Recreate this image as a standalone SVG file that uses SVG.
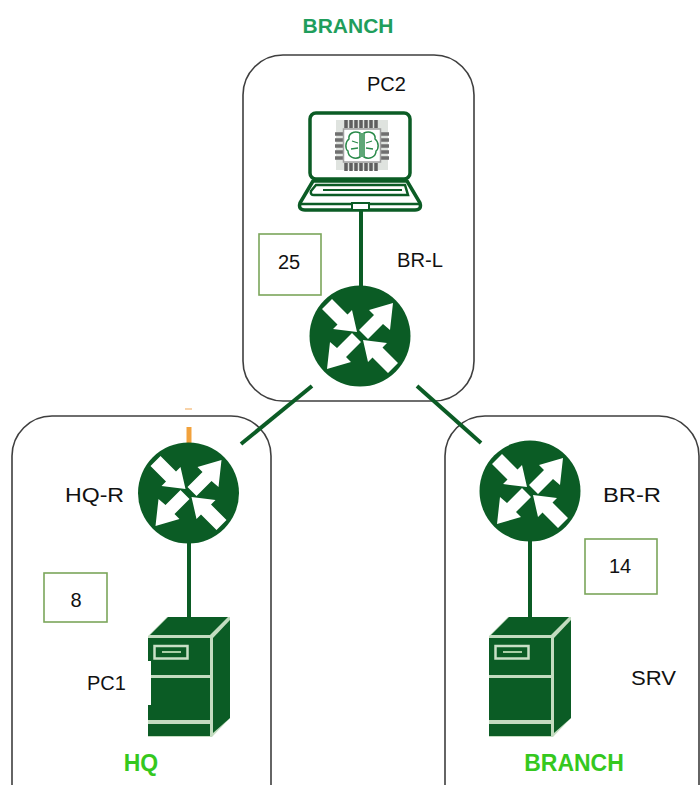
<svg xmlns="http://www.w3.org/2000/svg" width="700" height="785" viewBox="0 0 700 785">
<style>
.zone{fill:#fff;stroke:#3f3f3f;stroke-width:1.6}
.link{stroke:#0b5c25;stroke-width:4;fill:none}
.lbl{font-family:"Liberation Sans",Arial,sans-serif;font-size:20px;fill:#111}
.zn{font-family:"Liberation Sans",Arial,sans-serif;font-size:21px;font-weight:bold;text-anchor:middle}
.znb{font-size:23px}
.num{fill:#fff;stroke:#7ba65a;stroke-width:1.6}
.numt{font-family:"Liberation Sans",Arial,sans-serif;font-size:20px;fill:#111;text-anchor:middle}
.lap{fill:none;stroke:#0b5c25;stroke-width:3.5;stroke-linejoin:round}
</style>
<defs>
<g id="router">
<circle r="50.5" fill="#0b5c25"/>
<g fill="#fff">
<path d="M-1-6 14-21 9-26 33-33 30-6 23-12 8 3Z"/>
<path d="M1 6-14 21-9 26-33 33-30 6-23 12-8-3Z"/>
<path d="M-38-27-28-37-12.500-21.500-8-26-3-4-27-7-22.500-11.500Z"/>
<path d="M38 27 28 37 12.500 21.500 8 26 3 4 27 7 22.500 11.500Z"/>
</g>
</g>
<g id="server">
<path d="M0 36 19 17H82V118L64 137H0Z" fill="#c3dcc0"/>
<path d="M2 35 20 17H80L62 35Z" fill="#0b5c25"/>
<path d="M65 38 82 20V118L65 133Z" fill="#0b5c25"/>
<path d="M0 38H62V75H0Z" fill="#0b5c25"/>
<path d="M0 78H62V120H0Z" fill="#0b5c25"/>
<path d="M0 124H62V136H0Z" fill="#0b5c25"/>
<rect x="6.500" y="46" width="33" height="12.500" fill="none" stroke="#c9e0c6" stroke-width="2.500"/>
<path d="M14 52H33" stroke="#a9cfa5" stroke-width="2"/>
</g>
</defs>

<g id="zone-branch-top"><rect class="zone" x="243" y="55" width="231" height="346" rx="40"/></g>
<g id="zone-hq"><rect class="zone" x="12" y="416" width="259" height="410" rx="40"/></g>
<g id="zone-branch"><rect class="zone" x="445" y="416" width="254" height="410" rx="40"/></g>

<g id="connectors">
<path class="link" d="M361 211V288"/>
<path class="link" d="M312 386 241 444"/>
<path class="link" d="M417 386 481 443"/>
<path class="link" d="M189 543V618"/>
<path class="link" d="M530 541V618"/>
<path d="M189 427V444" stroke="#f2a23c" stroke-width="5" fill="none"/>
<path d="M185 409H192" stroke="#f6c48d" stroke-width="1.500" fill="none"/>
</g>

<g id="pc2">
<rect class="lap" x="310" y="113" width="100" height="66" rx="6"/>
<path class="lap" d="M313 181 300 203Q298 210 305 210H415Q422 210 420 203L407 181Z"/>
<path d="M316 185H405L408 195H314Q310 195 311 191Z" fill="none" stroke="#0b5c25" stroke-width="2.500"/>
<path d="M323 190H402" stroke="#0b5c25" stroke-width="2"/>
<path d="M301 204H419" stroke="#0b5c25" stroke-width="2.500"/>
<rect x="352" y="203" width="17" height="7" fill="#fff" stroke="#0b5c25" stroke-width="2"/>
<g id="chip">
<rect x="336" y="120" width="52" height="50" fill="#dfe3df"/>
<path d="M346 120V171M351 120V171M356 120V171M361 120V171M366 120V171M371 120V171M376 120V171" stroke="#5f5f5f" stroke-width="3.500" stroke-dasharray="8 35"/>
<path d="M335 134H389M335 140H389M335 146H389M335 152H389M335 158H389" stroke="#6f6f6f" stroke-width="3.500" stroke-dasharray="8 38"/>
<rect x="343.500" y="129" width="37" height="33" fill="#fff" stroke="#a0a0a0" stroke-width="1.500"/>
<path d="M360 133C354 130 348 134 349 139C345 142 345 149 348 151C348 157 355 160 360 157ZM364 133C370 130 376 134 375 139C379 142 379 149 376 151C376 157 369 160 364 157Z" fill="#fff" stroke="#2a8a4a" stroke-width="1.500"/>
<path d="M362 133V157" stroke="#2a8a4a" stroke-width="1.500"/>
<path d="M352 141 358 143M351 149 358 148M366 143 372 141M366 148 373 149" stroke="#2a8a4a" stroke-width="1.300"/>
</g>
</g>

<g id="br-l"><use href="#router" x="360" y="336"/></g>
<g id="hq-r"><use href="#router" x="188.500" y="493"/></g>
<g id="br-r"><use href="#router" x="530" y="491"/></g>
<g id="pc1"><use href="#server" x="148" y="600"/><rect x="147" y="661" width="4" height="44" fill="#fff"/></g>
<g id="srv"><use href="#server" x="489" y="600"/></g>

<g id="box-25"><rect class="num" x="259" y="234" width="62" height="61"/><text class="numt" x="289" y="269">25</text></g>
<g id="box-8"><rect class="num" x="44" y="573" width="63" height="49"/><text class="numt" x="76" y="607">8</text></g>
<g id="box-14"><rect class="num" x="585" y="539" width="72" height="55"/><text class="numt" x="620" y="573">14</text></g>

<g id="labels">
<text class="zn" x="348" y="33" fill="#1f9e5c">BRANCH</text>
<text class="zn znb" x="141" y="771" fill="#35c81e">HQ</text>
<text class="zn znb" x="574" y="771" fill="#35c81e">BRANCH</text>
<text class="lbl" x="367" y="91">PC2</text>
<text class="lbl" x="397" y="267" textLength="46" lengthAdjust="spacingAndGlyphs">BR-L</text>
<text class="lbl" x="65" y="502" textLength="59" lengthAdjust="spacingAndGlyphs">HQ-R</text>
<text class="lbl" x="603" y="502" textLength="58" lengthAdjust="spacingAndGlyphs">BR-R</text>
<text class="lbl" x="87" y="690">PC1</text>
<text class="lbl" x="631" y="685" textLength="45" lengthAdjust="spacingAndGlyphs">SRV</text>
</g>
</svg>
